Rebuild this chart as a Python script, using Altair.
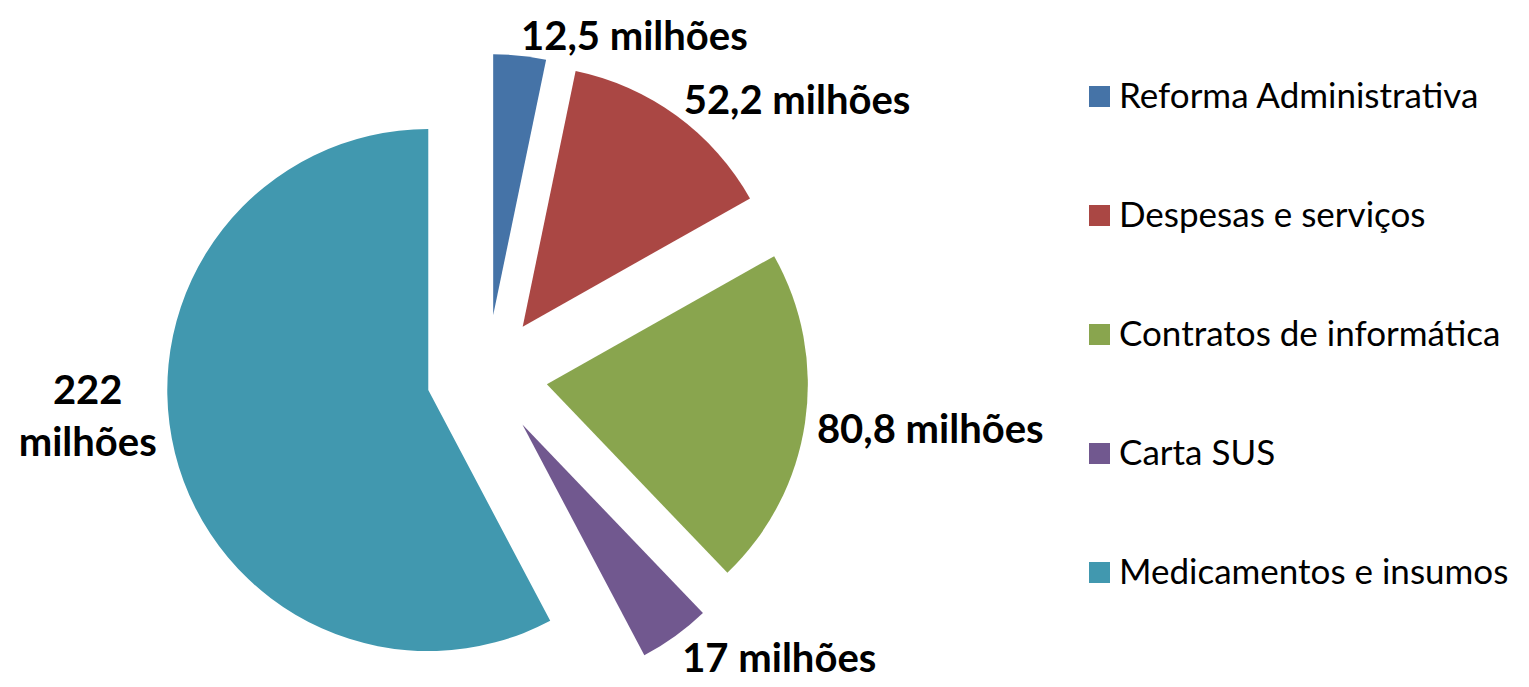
import altair as alt
import pandas as pd

categories = ["Reforma Administrativa", "Despesas e serviços", "Contratos de informática",
              "Carta SUS", "Medicamentos e insumos"]
values = [12.5, 52.2, 80.8, 17, 222]
labels = ["12,5 milhões", "52,2 milhões", "80,8 milhões", "17 milhões", "222\nmilhões"]
colors = ["#4573A7", "#AA4744", "#89A54E", "#71588F", "#4198AF"]

df = pd.DataFrame({"categoria": categories, "valor": values, "rotulo": labels,
                   "ordem": list(range(len(categories)))})

CX, CY, R, D, G = 479, 367.5, 261, 60.5, 12
FS, LH = 40, 52

base = alt.Chart(df).transform_window(
    cum="sum(valor)", sort=[alt.SortField("ordem")], frame=[None, 0]
).transform_joinaggregate(total="sum(valor)").transform_calculate(
    t1="datum.cum / datum.total * 2 * PI",
    t0="(datum.cum - datum.valor) / datum.total * 2 * PI",
).transform_calculate(
    mid="(datum.t0 + datum.t1) / 2",
    nchar="max(length(split(datum.rotulo, '\\n')[0]), length(peek(split(datum.rotulo, '\\n'))))",
    nlin="length(split(datum.rotulo, '\\n'))",
).transform_calculate(
    px=f"{CX} + sin(datum.mid) * {D}",
    py=f"{CY} - cos(datum.mid) * {D}",
    lx=f"{CX} + sin(datum.mid) * {R + D + G}",
    ly=f"{CY} - cos(datum.mid) * {R + D + G} - cos(datum.mid) * 11 + 5",
    lxc=f"{CX} + sin(datum.mid) * {R + D + G} - datum.nchar * {FS} * 0.27",
    lyb=f"{CY} - cos(datum.mid) * {R + D + G} - (datum.nlin - 1) * {LH} + 8",
)

color = alt.Color(
    "categoria:N",
    scale=alt.Scale(domain=categories, range=colors),
    sort=categories,
    legend=alt.Legend(
        title=None, orient="none", legendX=1074, legendY=71,
        symbolType="square", symbolSize=441, symbolStrokeWidth=0, symbolOpacity=1,
        labelFont="Lato", labelFontSize=35, labelColor="#000000", labelOffset=2,
        rowPadding=83, labelLimit=600,
    ),
)

pie = base.mark_arc(radius=R, stroke=None).encode(
    theta=alt.Theta("t0:Q", scale=None),
    theta2="t1:Q",
    x=alt.X("px:Q", scale=None),
    y=alt.Y("py:Q", scale=None),
    color=color,
)

lab_right = base.transform_filter("sin(datum.mid) >= 0").mark_text(
    font="Lato", fontSize=FS, fontWeight="bold", color="#000000",
    align="left", baseline="middle", lineBreak="\n", lineHeight=LH,
).encode(x=alt.X("lx:Q", scale=None), y=alt.Y("ly:Q", scale=None), text="rotulo:N")

lab_left = base.transform_filter("sin(datum.mid) < 0").mark_text(
    font="Lato", fontSize=FS, fontWeight="bold", color="#000000",
    align="center", baseline="bottom", lineBreak="\n", lineHeight=LH,
).encode(x=alt.X("lxc:Q", scale=None), y=alt.Y("lyb:Q", scale=None), text="rotulo:N")

chart = alt.layer(pie, lab_right, lab_left).properties(
    width=1513, height=679, padding=0, autosize=alt.AutoSizeParams(type="none"),
).configure_view(stroke=None)

chart.save("out.html", embed_options={"renderer": "svg", "actions": False})
